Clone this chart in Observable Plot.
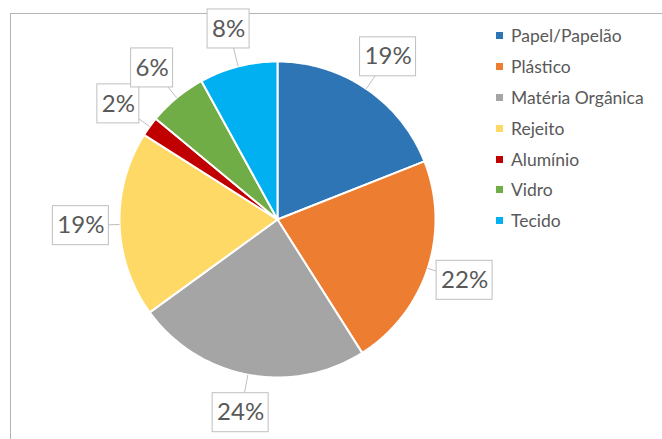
<!DOCTYPE html>
<html>
<head>
<meta charset="utf-8">
<script src="https://cdn.jsdelivr.net/npm/d3@7"></script>
<script src="https://cdn.jsdelivr.net/npm/@observablehq/plot@0.6"></script>
<style>
  html, body { margin: 0; padding: 0; background: #fff; }
  #wrap { position: relative; width: 662px; height: 439px; overflow: hidden; font-family: Lato, "Open Sans", sans-serif; }
  #frame { position: absolute; left: 10px; top: 13px; width: 700px; height: 500px; border-left: 1px solid #b4b4b4; border-top: 1px solid #b4b4b4; }
  #chart { position: absolute; left: 0; top: 0; }
  #legend { position: absolute; left: 496px; top: 20.6px; }
  .row { height: 30.8px; display: flex; align-items: center; color: #595959; font-size: 17.5px; white-space: nowrap; }
  .sw { width: 7px; height: 7px; margin-right: 8px; }
</style>
</head>
<body>
<div id="wrap">
  <div id="frame"></div>
  <div id="chart"></div>
  <div id="legend"></div>
</div>
<script>
const categories = ["Papel/Papelão", "Plástico", "Matéria Orgânica", "Rejeito", "Alumínio", "Vidro", "Tecido"];
const percents = [19, 22, 24, 19, 2, 6, 8];
const colors = ["#2E75B6", "#ED7D31", "#A5A5A5", "#FFD966", "#C00000", "#70AD47", "#00B0F0"];

// pie geometry from data (clockwise from 12 o'clock)
const total = d3.sum(percents);
const slices = [];
let acc = 0;
categories.forEach((name, i) => {
  const a0 = acc / total * 2 * Math.PI;
  acc += percents[i];
  const a1 = acc / total * 2 * Math.PI;
  slices.push({name, value: percents[i], a0, a1, mid: (a0 + a1) / 2});
});

const points = [];
for (const s of slices) {
  points.push({name: s.name, x: 0, y: 0});
  const n = Math.max(2, Math.ceil((s.a1 - s.a0) / (Math.PI / 180)));
  for (let k = 0; k <= n; k++) {
    const a = s.a0 + (s.a1 - s.a0) * k / n;
    points.push({name: s.name, x: Math.sin(a), y: Math.cos(a)});
  }
}

const labelR = 1.245;
const labels = slices.map(s => ({
  name: s.name,
  text: s.value + "%",
  ex: Math.sin(s.mid), ey: Math.cos(s.mid),
  x: labelR * Math.sin(s.mid), y: labelR * Math.cos(s.mid)
}));

const boxMark = (filter, w) => Plot.rect(labels.filter(filter), {
  x1: "x", x2: "x", y1: "y", y2: "y",
  insetLeft: -w / 2, insetRight: -w / 2, insetTop: -19.5, insetBottom: -19.5,
  fill: "white", stroke: "#bfbfbf", strokeWidth: 1
});

const chart = Plot.plot({
  width: 662,
  height: 439,
  margin: 0,
  x: {domain: [-1, 1], range: [119, 435], axis: null},
  y: {domain: [-1, 1], range: [377, 61], axis: null},
  color: {domain: categories, range: colors},
  style: {background: "transparent", fontFamily: "Lato, 'Open Sans', sans-serif"},
  marks: [
    Plot.line(points, {x: "x", y: "y", z: "name", fill: "name", stroke: "white", strokeWidth: 2, curve: "linear-closed", strokeLinejoin: "round"}),
    Plot.link(labels, {x1: "ex", y1: "ey", x2: "x", y2: "y", stroke: "#bfbfbf", strokeWidth: 1}),
    boxMark(d => d.text.length >= 3, 56),
    boxMark(d => d.text.length < 3, 42),
    Plot.text(labels, {x: "x", y: "y", text: "text", fill: "#595959", fontSize: 24, lineAnchor: "middle"})
  ]
});
document.getElementById("chart").appendChild(chart);

const legend = document.getElementById("legend");
categories.forEach((name, i) => {
  const row = document.createElement("div");
  row.className = "row";
  const sw = document.createElement("span");
  sw.className = "sw";
  sw.style.background = colors[i];
  const t = document.createElement("span");
  t.textContent = name;
  row.appendChild(sw);
  row.appendChild(t);
  legend.appendChild(row);
});
</script>
</body>
</html>
